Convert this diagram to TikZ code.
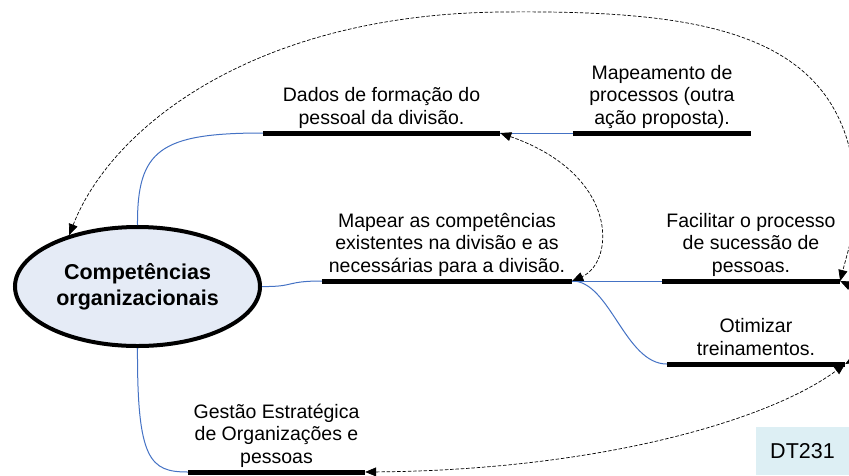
\documentclass[tikz,border=0pt]{standalone}
\usepackage{fontspec}
\setmainfont{Liberation Sans}
\usetikzlibrary{shapes.geometric, arrows.meta, positioning}
\definecolor{linkblue}{RGB}{68,114,196}
\definecolor{centrefill}{RGB}{229,235,246}
\definecolor{tagfill}{RGB}{221,239,244}
\tikzset{
  centrenode/.style={
    ellipse, draw=black, line width=4pt,
    fill=centrefill,
    minimum width=245pt, minimum height=119pt,
    align=center,
    font=\fontsize{21.5}{26}\selectfont\bfseries
  },
  topicnode/.style={
    anchor=south, align=center,
    inner xsep=0pt, inner ysep=2pt,
    font=\fontsize{19.5}{22.5}\selectfont,
    execute at end node=\strut
  },
  bar/.style={line width=5pt},
  link/.style={draw=linkblue, line width=1pt},
  relarrow/.style={{Triangle[length=11pt,width=9pt]}-{Triangle[length=11pt,width=9pt]},
    black, line width=0.7pt, dash pattern=on 3.5pt off 1.8pt},
  tagnode/.style={rectangle, fill=tagfill,
    minimum width=93pt, minimum height=48pt,
    font=\fontsize{21.5}{24}\selectfont}
}

\begin{document}
\begin{tikzpicture}[x=1pt, y=-1pt]
  \useasboundingbox (0,0) rectangle (849,475);
  \clip (0,0) rectangle (849,475);

  % Central topic
  \node[centrenode] (compet) at (137.5,286.5) {Competências\\organizacionais};

  % Topics
  \node[topicnode, minimum width=237pt] (dados) at (381.5,133)
    {Dados de formação do\\pessoal da divisão.};
  \node[topicnode, minimum width=178pt] (mapeam) at (662,133)
    {Mapeamento de\\processos (outra\\ação proposta).};
  \node[topicnode, minimum width=250pt] (mapear) at (447,281)
    {Mapear as competências\\existentes na divisão e as\\necessárias para a divisão.};
  \node[topicnode, minimum width=178pt] (facil) at (751,281)
    {Facilitar o processo\\de sucessão de\\pessoas.};
  \node[topicnode, minimum width=178pt] (otim) at (756,364)
    {Otimizar\\treinamentos.};
  \node[topicnode, minimum width=177pt] (gestao) at (276.5,472)
    {Gestão Estratégica\\de Organizações e\\pessoas};

  % Tag
  \node[tagnode] (tag) at (802.5,451) {DT231};

  % Branches
  \draw[link] (compet.north) .. controls (137,150) and (160,133) .. (dados.south west);
  \draw[link] (dados.south east) -- (mapeam.south west);
  \draw[link] (compet.east) .. controls (295,287) and (285,281) .. (mapear.south west);
  \draw[link] (mapear.south east) -- (facil.south west);
  \draw[link] (mapear.south east) .. controls (610,281) and (625,364) .. (otim.south west);
  \draw[link] (compet.south) .. controls (137,460) and (150,472) .. (gestao.south west);

  % Bars under the topics
  \foreach \t in {dados, mapeam, mapear, facil, otim, gestao}
    \draw[bar] (\t.south west) -- (\t.south east);

  % Relationships
  \draw[relarrow] (compet.143) .. controls (110,130) and (250,15) .. (500,12)
    .. controls (700,10) and (840,30) .. (855,180)
    .. controls (859,220) and (848,250) .. (facil.south east);
  \draw[relarrow] (facil.south east) .. controls (870,295) and (870,350) .. (otim.south east);
  \draw[relarrow] (gestao.south east) .. controls (600,470) and (770,420) .. (otim.south east);
  \draw[relarrow] (dados.south east) .. controls (620,175) and (615,262) .. (mapear.south east);

\end{tikzpicture}
\end{document}
